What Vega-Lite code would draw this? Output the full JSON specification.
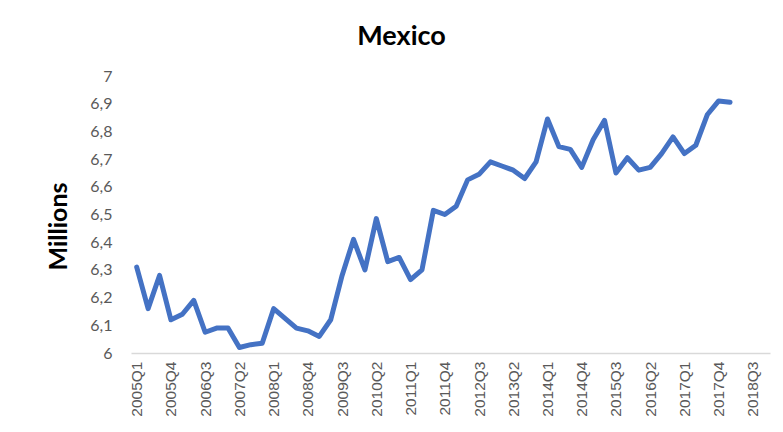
{
  "$schema": "https://vega.github.io/schema/vega-lite/v6.json",
  "width": 639,
  "height": 277,
  "autosize": {"type": "none"},
  "padding": {"left": 131, "top": 76, "right": 13, "bottom": 79},
  "background": "white",
  "config": {"view": {"stroke": null}, "font": "Lato"},
  "title": {"text": "Mexico", "fontSize": 27, "fontWeight": "bold", "color": "#000000", "anchor": "middle", "frame": "group", "dx": -49, "offset": 17, "font": "Lato"},
  "data": {"values": [
    {"q": "2005Q1", "v": 6.31}, {"q": "2005Q2", "v": 6.16}, {"q": "2005Q3", "v": 6.28}, {"q": "2005Q4", "v": 6.12},
    {"q": "2006Q1", "v": 6.14}, {"q": "2006Q2", "v": 6.19}, {"q": "2006Q3", "v": 6.075}, {"q": "2006Q4", "v": 6.09},
    {"q": "2007Q1", "v": 6.09}, {"q": "2007Q2", "v": 6.02}, {"q": "2007Q3", "v": 6.03}, {"q": "2007Q4", "v": 6.035},
    {"q": "2008Q1", "v": 6.16}, {"q": "2008Q2", "v": 6.125}, {"q": "2008Q3", "v": 6.09}, {"q": "2008Q4", "v": 6.08},
    {"q": "2009Q1", "v": 6.06}, {"q": "2009Q2", "v": 6.12}, {"q": "2009Q3", "v": 6.28}, {"q": "2009Q4", "v": 6.41},
    {"q": "2010Q1", "v": 6.30}, {"q": "2010Q2", "v": 6.485}, {"q": "2010Q3", "v": 6.33}, {"q": "2010Q4", "v": 6.345},
    {"q": "2011Q1", "v": 6.265}, {"q": "2011Q2", "v": 6.30}, {"q": "2011Q3", "v": 6.515}, {"q": "2011Q4", "v": 6.50},
    {"q": "2012Q1", "v": 6.53}, {"q": "2012Q2", "v": 6.625}, {"q": "2012Q3", "v": 6.645}, {"q": "2012Q4", "v": 6.69},
    {"q": "2013Q1", "v": 6.675}, {"q": "2013Q2", "v": 6.66}, {"q": "2013Q3", "v": 6.63}, {"q": "2013Q4", "v": 6.69},
    {"q": "2014Q1", "v": 6.845}, {"q": "2014Q2", "v": 6.745}, {"q": "2014Q3", "v": 6.735}, {"q": "2014Q4", "v": 6.67},
    {"q": "2015Q1", "v": 6.77}, {"q": "2015Q2", "v": 6.84}, {"q": "2015Q3", "v": 6.65}, {"q": "2015Q4", "v": 6.705},
    {"q": "2016Q1", "v": 6.66}, {"q": "2016Q2", "v": 6.67}, {"q": "2016Q3", "v": 6.72}, {"q": "2016Q4", "v": 6.78},
    {"q": "2017Q1", "v": 6.72}, {"q": "2017Q2", "v": 6.75}, {"q": "2017Q3", "v": 6.86}, {"q": "2017Q4", "v": 6.91},
    {"q": "2018Q1", "v": 6.905}
  ]},
  "mark": {"type": "line", "color": "#4472C4", "strokeWidth": 5, "strokeJoin": "round", "strokeCap": "round"},
  "encoding": {
    "x": {
      "field": "q", "type": "ordinal",
      "scale": {"type": "point", "padding": 0.5, "domain": [
        "2005Q1","2005Q2","2005Q3","2005Q4","2006Q1","2006Q2","2006Q3","2006Q4",
        "2007Q1","2007Q2","2007Q3","2007Q4","2008Q1","2008Q2","2008Q3","2008Q4",
        "2009Q1","2009Q2","2009Q3","2009Q4","2010Q1","2010Q2","2010Q3","2010Q4",
        "2011Q1","2011Q2","2011Q3","2011Q4","2012Q1","2012Q2","2012Q3","2012Q4",
        "2013Q1","2013Q2","2013Q3","2013Q4","2014Q1","2014Q2","2014Q3","2014Q4",
        "2015Q1","2015Q2","2015Q3","2015Q4","2016Q1","2016Q2","2016Q3","2016Q4",
        "2017Q1","2017Q2","2017Q3","2017Q4","2018Q1","2018Q2","2018Q3","2018Q4"]},
      "axis": {
        "title": null,
        "values": ["2005Q1","2005Q4","2006Q3","2007Q2","2008Q1","2008Q4","2009Q3","2010Q2","2011Q1","2011Q4","2012Q3","2013Q2","2014Q1","2014Q4","2015Q3","2016Q2","2017Q1","2017Q4","2018Q3"],
        "labelAngle": -90, "labelAlign": "right", "labelBaseline": "middle",
        "labelFont": "Liberation Sans", "labelFontSize": 15.5, "labelColor": "#595959", "labelPadding": 8,
        "ticks": false, "grid": false, "domainColor": "#D9D9D9", "domainWidth": 1.5, "labelOverlap": false
      }
    },
    "y": {
      "field": "v", "type": "quantitative",
      "scale": {"domain": [6, 7], "nice": false, "zero": false},
      "axis": {
        "title": "Millions", "titleFontSize": 25, "titleFontWeight": "bold", "titleColor": "#000000", "titleFont": "Lato",
        "titleAngle": -90, "titleAlign": "center", "titleBaseline": "middle", "titleX": -73, "titleY": 150,
        "values": [6, 6.1, 6.2, 6.3, 6.4, 6.5, 6.6, 6.7, 6.8, 6.9, 7],
        "labelExpr": "replace(format(datum.value, '~g'), '.', ',')",
        "labelFontSize": 16, "labelColor": "#595959", "labelPadding": 19,
        "ticks": false, "grid": false, "domain": false
      }
    }
  }
}
